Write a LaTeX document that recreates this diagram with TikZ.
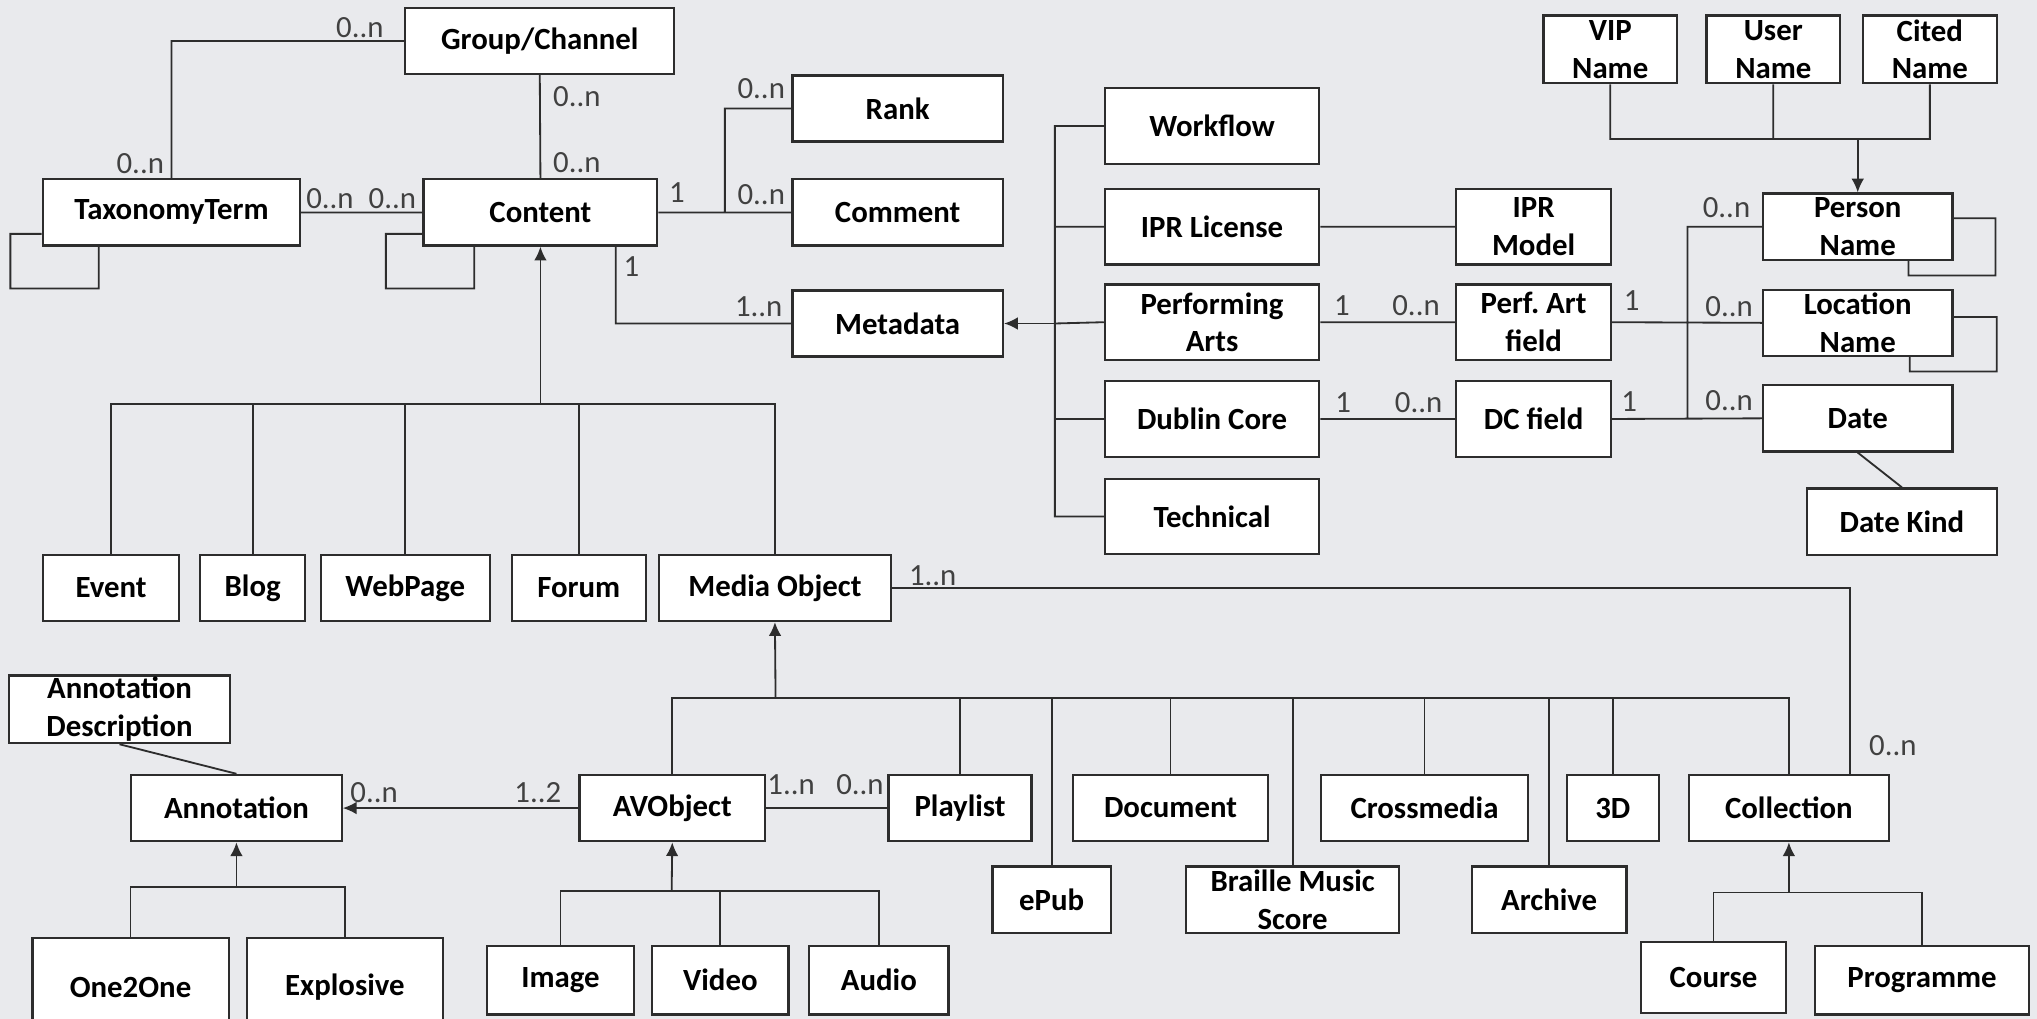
\documentclass[tikz,border=0pt]{standalone}
\usepackage{fontspec}
\setmainfont{Carlito}
\usetikzlibrary{arrows.meta}
\definecolor{bggray}{RGB}{233,234,237}
\definecolor{linegray}{RGB}{45,45,45}
\definecolor{labelgray}{RGB}{65,65,65}
\frenchspacing
\tikzset{
	>={Latex[length=6pt,width=5.5pt]},
	cls/.style 2 args={draw=linegray, line width=1pt, fill=white, align=center,
		inner sep=0pt, font=\fontsize{13.5}{16.5}\selectfont\bfseries,
		minimum width=#1*0.2mm, minimum height=#2*0.2mm},
	link/.style={draw=linegray, line width=0.8pt},
	mult/.style={text=labelgray, inner sep=0pt, font=\fontsize{13.5}{16.5}\selectfont}}

\begin{document}
\begin{tikzpicture}[x=0.2mm, y=-0.2mm]

	\fill[bggray] (0,0) rectangle (1568,784);
	\useasboundingbox (0,0) rectangle (1568,784);
	\clip (0,0) rectangle (1568,784);

	% content part
	\node[cls={207}{51}] (grp) at (415.5,31.5) {Group/Channel};
	\node[cls={198}{51}] (tax) at (132,163.5) {TaxonomyTerm};
	\node[cls={180}{51}] (cont) at (416,163.5) {Content};
	\node[cls={162}{51}] (rank) at (691,83.5) {Rank};
	\node[cls={162}{51}] (cmt) at (691,163.5) {Comment};
	\node[cls={162}{51}] (meta) at (691,249) {Metadata};

	% metadata part
	\node[cls={165}{58}] (wf) at (933,97) {Workflow};
	\node[cls={165}{58}] (iprl) at (933,174.5) {IPR License};
	\node[cls={165}{58}] (perf) at (933,248) {Performing\\Arts};
	\node[cls={165}{58}] (dc) at (933,322.5) {Dublin Core};
	\node[cls={165}{58}] (tech) at (933,397.5) {Technical};
	\node[cls={119}{58}] (iprm) at (1180.5,174.5) {IPR\\Model};
	\node[cls={119}{58}] (paf) at (1180.5,248) {Perf. Art\\field};
	\node[cls={119}{58}] (dcf) at (1180.5,322.5) {DC field};
	\node[cls={103}{52}] (vip) at (1239.5,38) {VIP\\Name};
	\node[cls={103}{52}] (usr) at (1365,38) {User\\Name};
	\node[cls={103}{52}] (cit) at (1485.5,38) {Cited\\Name};
	\node[cls={146}{51}] (pers) at (1430,174.5) {Person\\Name};
	\node[cls={146}{51}] (loc) at (1430,248.5) {Location\\Name};
	\node[cls={146}{51}] (date) at (1430,322) {Date};
	\node[cls={146}{51}] (dk) at (1464,401.5) {Date Kind};

	% content kinds
	\node[cls={105}{51}] (event) at (85.5,452.5) {Event};
	\node[cls={81}{51}] (blog) at (194.5,452.5) {Blog};
	\node[cls={130}{51}] (web) at (312,452.5) {WebPage};
	\node[cls={103}{51}] (forum) at (445.5,452.5) {Forum};
	\node[cls={179}{51}] (media) at (596.5,452.5) {Media Object};

	% media objects
	\node[cls={170}{52}] (adesc) at (92,546) {Annotation\\Description};
	\node[cls={162}{51}] (annot) at (182,622) {Annotation};
	\node[cls={143}{51}] (avo) at (517.5,622) {AVObject};
	\node[cls={110}{51}] (plist) at (739,622) {Playlist};
	\node[cls={150}{51}] (doc) at (901,622) {Document};
	\node[cls={159}{51}] (xmed) at (1096.5,622) {Crossmedia};
	\node[cls={71}{51}] (threed) at (1241.5,622) {3D};
	\node[cls={154}{51}] (coll) at (1377,622) {Collection};
	\node[cls={91}{51}] (epub) at (809.5,692.5) {ePub};
	\node[cls={164}{51}] (braille) at (995,692.5) {Braille Music\\Score};
	\node[cls={119}{51}] (arch) at (1192.5,692.5) {Archive};
	\node[cls={151}{76}] (oto) at (100.5,760) {One2One};
	\node[cls={151}{76}] (expl) at (265.5,760) {Explosive};
	\node[cls={113}{53}] (img) at (431.5,754.5) {Image};
	\node[cls={105}{53}] (vid) at (554.5,754.5) {Video};
	\node[cls={107}{53}] (aud) at (676.5,754.5) {Audio};
	\node[cls={112}{55}] (course) at (1319,752.5) {Course};
	\node[cls={165}{53}] (prog) at (1479.5,754.5) {Programme};

	% junctions
	\coordinate (jr) at (558,163.5);
	\coordinate (mb) at (812,249);
	\coordinate (nb) at (1299,322.5);
	\coordinate (nh) at (1430,107);
	\coordinate (cb) at (416,311);
	\coordinate (mob) at (597,537);
	\coordinate (ab) at (182,683);
	\coordinate (avb) at (517,686);
	\coordinate (clb) at (1377,687);

	\draw[link]
		(grp.west) -| (tax.north)
		(grp.south) -- (cont.north)
		(tax.east) -- (cont.west)
		(tax.west |- 0,180) -| (8,222) -| (tax.south -| 76,0)
		(cont.west |- 0,180) -| (297,222) -| (cont.south -| 365,0)
		(cont.east) -- (cmt.west)
		(jr) |- (rank.west)
		(cont.south -| 474,0) |- (meta.west)
		;
	\draw[link, ->] (mb) -- (meta.east);
	\draw[link]
		(wf.west) -| (mb) |- (tech.west)
		(iprl.west) -- (iprl.west -| mb)
		(perf.west) -- (mb)
		(dc.west) -- (dc.west -| mb)
		(iprl.east) -- (iprm.west)
		(perf.east) -- (paf.west)
		(dc.east) -- (dcf.west)
		(paf.east) -- (loc.west)
		(dcf.east) -- (date.west)
		(pers.west) -| (nb)
		(pers.east |- 0,168) -| (1536,212) -| (pers.south -| 1469,0)
		(loc.east |- 0,244) -| (1537,286) -| (loc.south -| 1470,0)
		(vip.south) |- (nh) -| (cit.south)
		(usr.south) -- (usr.south |- nh)
		(date.south) -- (dk.north)
		;
	\draw[link, ->] (nh) -- (pers.north);

	% generalisations
	\draw[link, ->] (cb) -- (cont.south);
	\draw[link]
		(event.north) |- (cb) -| (media.north)
		(blog.north) -- (blog.north |- cb)
		(web.north) -- (web.north |- cb)
		(forum.north) -- (forum.north |- cb)
		;
	\draw[link, ->] (mob) -- (media.south);
	\draw[link]
		(avo.north) |- (mob) -| (coll.north)
		(plist.north) -- (plist.north |- mob)
		(epub.north) -- (epub.north |- mob)
		(doc.north) -- (doc.north |- mob)
		(braille.north) -- (braille.north |- mob)
		(xmed.north) -- (xmed.north |- mob)
		(arch.north) -- (arch.north |- mob)
		(threed.north) -- (threed.north |- mob)
		;
	\draw[link, ->] (ab) -- (annot.south);
	\draw[link] (oto.north) |- (ab) -| (expl.north);
	\draw[link, ->] (avb) -- (avo.south);
	\draw[link]
		(img.north) |- (avb) -| (aud.north)
		(vid.north) -- (vid.north |- avb)
		;
	\draw[link, ->] (clb) -- (coll.south);
	\draw[link] (course.north) |- (clb) -| (prog.north);

	% associations
	\draw[link, ->] (avo.west) -- (annot.east);
	\draw[link] (avo.east) -- (plist.west);
	\draw[link] (adesc.south) -- (annot.north);
	\draw[link] (media.east) -| (coll.north -| 1424,0);

	% multiplicities
	\node[mult] (l1) at (277,21) {0..n};
	\node[mult] (l2) at (108,126) {0..n};
	\node[mult] (l3) at (444,74) {0..n};
	\node[mult] (l4) at (444,125) {0..n};
	\node[mult] (l5) at (254,153) {0..n};
	\node[mult] (l6) at (302,153) {0..n};
	\node[mult] (l7) at (521,148) {1};
	\node[mult] (l8) at (586,68) {0..n};
	\node[mult] (l9) at (586,150) {0..n};
	\node[mult] (l10) at (486,205) {1};
	\node[mult] (l11) at (584,236) {1..n};
	\node[mult] (l12) at (1033,235) {1};
	\node[mult] (l13) at (1090,235) {0..n};
	\node[mult] (l14) at (1034,310) {1};
	\node[mult] (l15) at (1092,310) {0..n};
	\node[mult] (l16) at (1256,231) {1};
	\node[mult] (l17) at (1254,309) {1};
	\node[mult] (l18) at (1329,160) {0..n};
	\node[mult] (l19) at (1331,236) {0..n};
	\node[mult] (l20) at (1331,308) {0..n};
	\node[mult] (l21) at (718,443) {1..n};
	\node[mult] (l22) at (1457,574) {0..n};
	\node[mult] (l23) at (288,610) {0..n};
	\node[mult] (l24) at (414,610) {1..2};
	\node[mult] (l25) at (609,604) {1..n};
	\node[mult] (l26) at (662,604) {0..n};

\end{tikzpicture}
\end{document}
